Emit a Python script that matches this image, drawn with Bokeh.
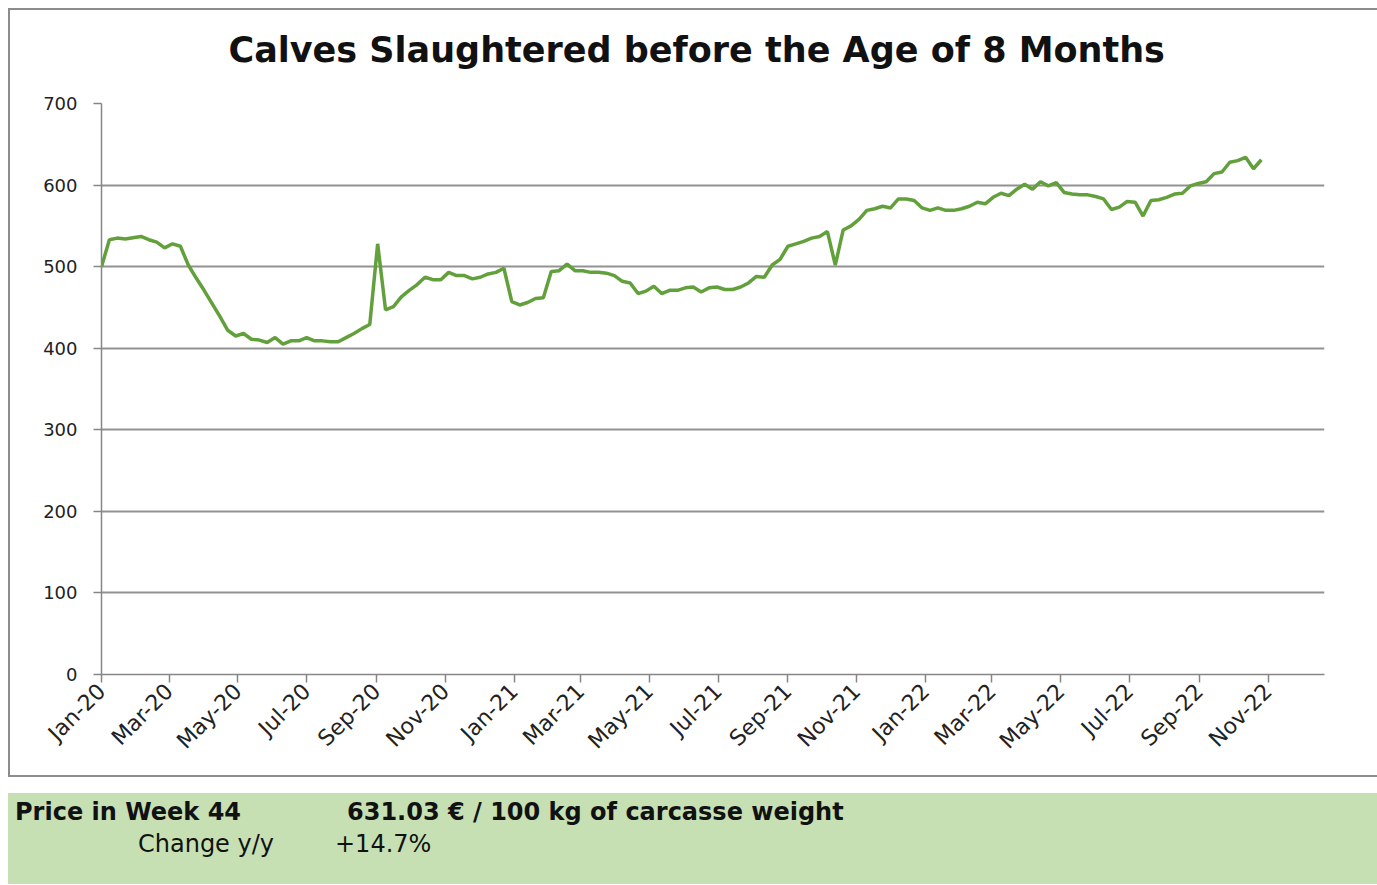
import pandas as pd
from math import pi
from bokeh.plotting import figure
from bokeh.models import Range1d, FixedTicker, DatetimeTickFormatter, ColumnDataSource, Div, Title
from bokeh.layouts import column
from bokeh.embed import file_html
from bokeh.resources import INLINE

# ---------------- data ----------------
title_text = "Calves Slaughtered before the Age of 8 Months"
first_week = "2020-01-01"
prices = [
    500, 533, 535, 534, 535.5, 537, 533, 530, 523, 528, 525, 502, 486, 471, 455, 439,
    422, 415, 418, 411, 410, 407, 413, 405, 409, 409, 413, 409, 409, 408, 408, 413,
    418, 424, 429, 528, 447,
    451, 463, 471, 478, 487, 484, 484, 493, 489, 489, 485, 487, 491, 493, 498, 457,
    453, 456, 461, 462, 494, 495, 503, 495, 495, 493, 493, 492, 489, 482, 480, 467,
    470, 476, 467, 471, 471,
    474, 475, 469, 474, 475, 472, 472, 475, 480, 488, 487, 502, 509, 525, 528, 531,
    535, 537, 543, 502, 545, 550, 558, 569, 571, 574, 572, 583, 583, 581, 572, 569,
    572, 569, 569, 571, 574,
    579, 577, 585, 590, 587, 595, 601, 595, 604, 599, 603, 591, 589, 588, 588, 586,
    583, 570, 573, 580, 579, 562, 581, 582, 585, 589, 590, 599, 602, 604, 614, 616,
    628, 630, 634, 620, 631.03,
]
x_tick_dates = ["2020-01-01", "2020-03-01", "2020-05-01", "2020-07-01", "2020-09-01",
                "2020-11-01", "2021-01-01", "2021-03-01", "2021-05-01", "2021-07-01",
                "2021-09-01", "2021-11-01", "2022-01-01", "2022-03-01", "2022-05-01",
                "2022-07-01", "2022-09-01", "2022-11-01"]
y_ticks = [0, 100, 200, 300, 400, 500, 600, 700]
price_label = "Price in Week 44"
price_value = "631.03 € / 100 kg of carcasse weight"
change_label = "Change y/y"
change_value = "+14.7%"

# ---------------- chart ----------------
dates = pd.date_range(first_week, periods=len(prices), freq="7D")
src = ColumnDataSource(dict(date=dates, price=prices))

border = ("inset 8px 8px 0 0 #ffffff, inset 0 -8px 0 0 #ffffff, "
          "inset 10px 10px 0 0 #8c8c8c, inset 0 -10px 0 0 #8c8c8c")

p = figure(width=1377, height=785, x_axis_type="datetime",
           x_range=Range1d(pd.Timestamp("2020-01-01"), pd.Timestamp("2022-12-21")),
           y_range=Range1d(0, 700),
           output_backend="svg", toolbar_location=None,
           min_border_left=101, min_border_right=53, min_border_top=103, min_border_bottom=111,
           background_fill_color=None, border_fill_color=None,
           outline_line_color=None,
           styles={"background-color": "white", "box-shadow": border})

# spacer between frame and title, then the title itself (further from the frame)
p.add_layout(Title(text=" ", text_font_size="10px", standoff=21), "above")
p.add_layout(Title(text=title_text, text_font="DejaVu Sans", text_font_size="35px",
                   text_font_style="bold", text_color="#111111",
                   align="left", offset=127, standoff=0), "above")

p.line("date", "price", source=src, line_color="#62A03C", line_width=3.5)

tick_ms = [float(t) for t in (pd.to_datetime(x_tick_dates).astype("int64") // 10**6)]
xa = p.xaxis[0]
xa.ticker = FixedTicker(ticks=tick_ms)
xa.formatter = DatetimeTickFormatter(days="%b-%y", months="%b-%y", years="%b-%y")
xa.major_label_orientation = pi / 4
xa.major_label_text_font_size = "22px"

ya = p.yaxis[0]
ya.ticker = FixedTicker(ticks=y_ticks)
ya.major_label_text_font_size = "18px"
ya.major_label_standoff = 16

for ax in (xa, ya):
    ax.axis_line_color = "#868686"
    ax.axis_line_width = 1.5
    ax.major_tick_line_color = "#868686"
    ax.major_tick_line_width = 1.5
    ax.major_tick_out = 8
    ax.major_tick_in = 0
    ax.minor_tick_out = 0
    ax.minor_tick_in = 0
    ax.major_label_text_font = "DejaVu Sans"
    ax.major_label_text_color = "#222222"

p.xgrid.grid_line_color = None
p.ygrid.grid_line_color = "#929292"
p.ygrid.grid_line_width = 2

# ---------------- info box ----------------
span = "position:absolute;white-space:nowrap;line-height:28px;"
info_html = (
    '<div style="position:relative;margin-left:8px;width:1369px;height:91px;background:#C6E0B4;'
    'font-family:\'DejaVu Sans\';font-size:24px;color:#111111;">'
    f'<span style="{span}left:7px;top:5px;font-weight:bold;">{price_label}</span>'
    f'<span style="{span}left:339px;top:5px;font-weight:bold;">{price_value}</span>'
    f'<span style="{span}left:130px;top:37px;">{change_label}</span>'
    f'<span style="{span}left:327px;top:37px;">{change_value}</span>'
    '</div>'
)
info = Div(text=info_html, width=1377, height=91, margin=0)

layout = column(p, info, spacing=8)
open("out.html", "w").write(file_html(layout, INLINE))
